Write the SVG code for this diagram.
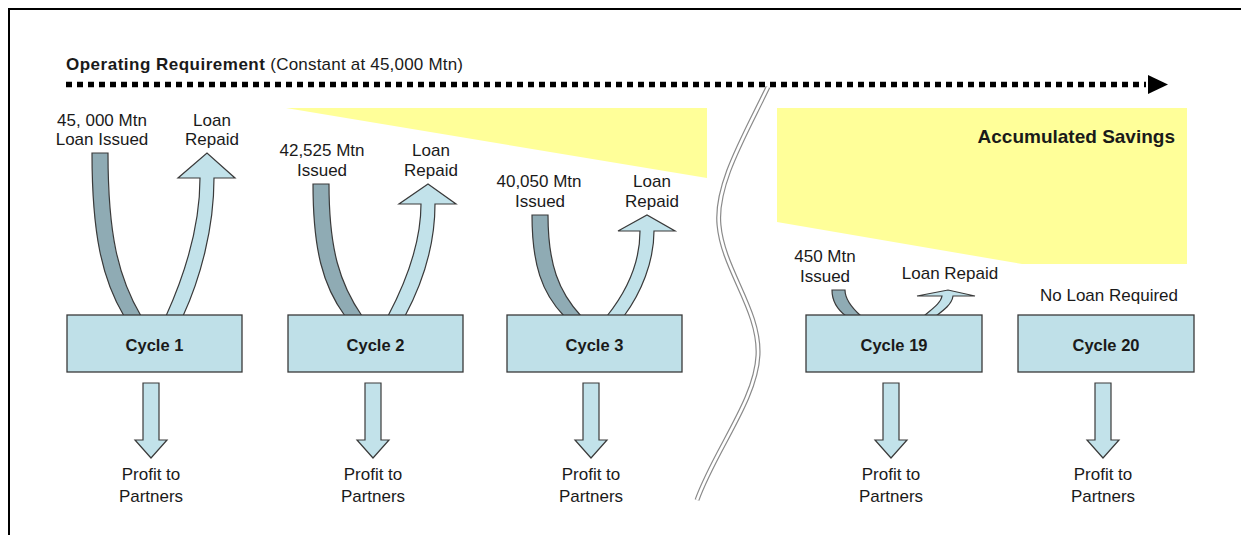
<svg xmlns="http://www.w3.org/2000/svg" width="1241" height="535" viewBox="0 0 1241 535">
<style>
.t{font-family:"Liberation Sans",Arial,sans-serif;font-size:17px;fill:#1a1a1a;text-anchor:middle}
.b{font-family:"Liberation Sans",Arial,sans-serif;font-weight:bold;fill:#1a1a1a}
.box{fill:#bfe0e8;stroke:#3a3a3a;stroke-width:1.3}
.dk{fill:#8fabb4;stroke:#3a3a3a;stroke-width:1.2}
.lt{fill:#c2e2ea;stroke:#3a3a3a;stroke-width:1.2}
.sav{fill:#ffff99}
</style>
<rect x="0" y="0" width="1241" height="535" fill="#ffffff"/>
<path d="M9,535 V9 H1241" fill="none" stroke="#000" stroke-width="2"/>

<g id="savings">
<polygon class="sav" points="286,108 707,108 707,178"/>
<polygon class="sav" points="777,108 1187,108 1187,264 1022,264 777,222"/>
<text class="b" x="1175" y="143" font-size="19" text-anchor="end">Accumulated Savings</text>
</g>

<g id="operating-requirement">
<text class="b" x="66" y="70" font-size="17" letter-spacing="0.5">Operating Requirement<tspan font-weight="normal" letter-spacing="0.2"> (Constant at 45,000 Mtn)</tspan></text>
<line x1="66" y1="84.5" x2="1146" y2="84.5" stroke="#000" stroke-width="5.5" stroke-dasharray="6 5"/>
<polygon points="1148,75 1168,84.5 1148,94" fill="#000"/>
</g>

<g id="break">
<path d="M768,87 C745,135 715,185 719,225 C723,270 760,310 758,355 C756,400 715,450 697,500" fill="none" stroke="#8a8a8a" stroke-width="5"/>
<path d="M768,87 C745,135 715,185 719,225 C723,270 760,310 758,355 C756,400 715,450 697,500" fill="none" stroke="#ffffff" stroke-width="2.6"/>
</g>

<g id="connectors">
<!-- Cycle 1 -->
<path class="dk" d="M92,153 C92,234 102,279 124,316 L141,316 C118,277 108,234 108,153 Z"/>
<path class="lt" d="M166,316 C185,274 200,226 200,178 L178,178 L207,153 L235,178 L214,178 C214,229 200,279 183,316 Z"/>
<!-- Cycle 2 -->
<path class="dk" d="M313,184 C313,250 323,286 345,316 L362,316 C340,284 329,250 329,184 Z"/>
<path class="lt" d="M388,316 C406,282 421,243 421,204 L399,204 L428,184 L456,204 L435,204 C435,246 421,286 405,316 Z"/>
<!-- Cycle 3 -->
<path class="dk" d="M532,215 C532,265 542,293 564,316 L581,316 C559,292 548,265 548,215 Z"/>
<path class="lt" d="M607,316 C627,291 640,261 640,231 L618,231 L647,215 L675,231 L654,231 C654,262 641,293 624,316 Z"/>
<!-- Cycle 19 -->
<path class="dk" d="M832,290 C832,302 838,310 846,316 L861,316 C852,308 845,300 845,290 Z"/>
<path class="lt" d="M924,316 C932,309 941,303 942,296 L917,296 L948,290 L975,296 L953,296 C952,304 944,310 936,316 Z"/>
<!-- Profit arrows -->
<path class="lt" d="M143,383 H159 V440 H167 L151,458 L135,440 H143 Z"/>
<path class="lt" d="M365,383 H381 V440 H389 L373,458 L357,440 H365 Z"/>
<path class="lt" d="M583,383 H599 V440 H607 L591,458 L575,440 H583 Z"/>
<path class="lt" d="M883,383 H899 V440 H907 L891,458 L875,440 H883 Z"/>
<path class="lt" d="M1095,383 H1111 V440 H1119 L1103,458 L1087,440 H1095 Z"/>
</g>

<g id="cycle1">
<text class="t" x="102" y="126">45, 000 Mtn</text>
<text class="t" x="102" y="145">Loan Issued</text>
<text class="t" x="212" y="126">Loan</text>
<text class="t" x="212" y="145">Repaid</text>
<rect class="box" x="67" y="315" width="175" height="57"/>
<text class="b" x="154.5" y="351" font-size="16.5" text-anchor="middle">Cycle 1</text>
<text class="t" x="151" y="480">Profit to</text>
<text class="t" x="151" y="502">Partners</text>
</g>

<g id="cycle2">
<text class="t" x="322" y="156">42,525 Mtn</text>
<text class="t" x="322" y="176">Issued</text>
<text class="t" x="431" y="156">Loan</text>
<text class="t" x="431" y="176">Repaid</text>
<rect class="box" x="288" y="315" width="175" height="57"/>
<text class="b" x="375.5" y="351" font-size="16.5" text-anchor="middle">Cycle 2</text>
<text class="t" x="373" y="480">Profit to</text>
<text class="t" x="373" y="502">Partners</text>
</g>

<g id="cycle3">
<text class="t" x="539" y="187">40,050 Mtn</text>
<text class="t" x="540" y="207">Issued</text>
<text class="t" x="652" y="187">Loan</text>
<text class="t" x="652" y="207">Repaid</text>
<rect class="box" x="507" y="315" width="175" height="57"/>
<text class="b" x="594.5" y="351" font-size="16.5" text-anchor="middle">Cycle 3</text>
<text class="t" x="591" y="480">Profit to</text>
<text class="t" x="591" y="502">Partners</text>
</g>

<g id="cycle19">
<text class="t" x="825" y="262">450 Mtn</text>
<text class="t" x="825" y="282">Issued</text>
<text class="t" x="950" y="279">Loan Repaid</text>
<rect class="box" x="806" y="315" width="176" height="57"/>
<text class="b" x="894" y="351" font-size="16.5" text-anchor="middle">Cycle 19</text>
<text class="t" x="891" y="480">Profit to</text>
<text class="t" x="891" y="502">Partners</text>
</g>

<g id="cycle20">
<text class="t" x="1109" y="301">No Loan Required</text>
<rect class="box" x="1018" y="315" width="176" height="57"/>
<text class="b" x="1106" y="351" font-size="16.5" text-anchor="middle">Cycle 20</text>
<text class="t" x="1103" y="480">Profit to</text>
<text class="t" x="1103" y="502">Partners</text>
</g>
</svg>
